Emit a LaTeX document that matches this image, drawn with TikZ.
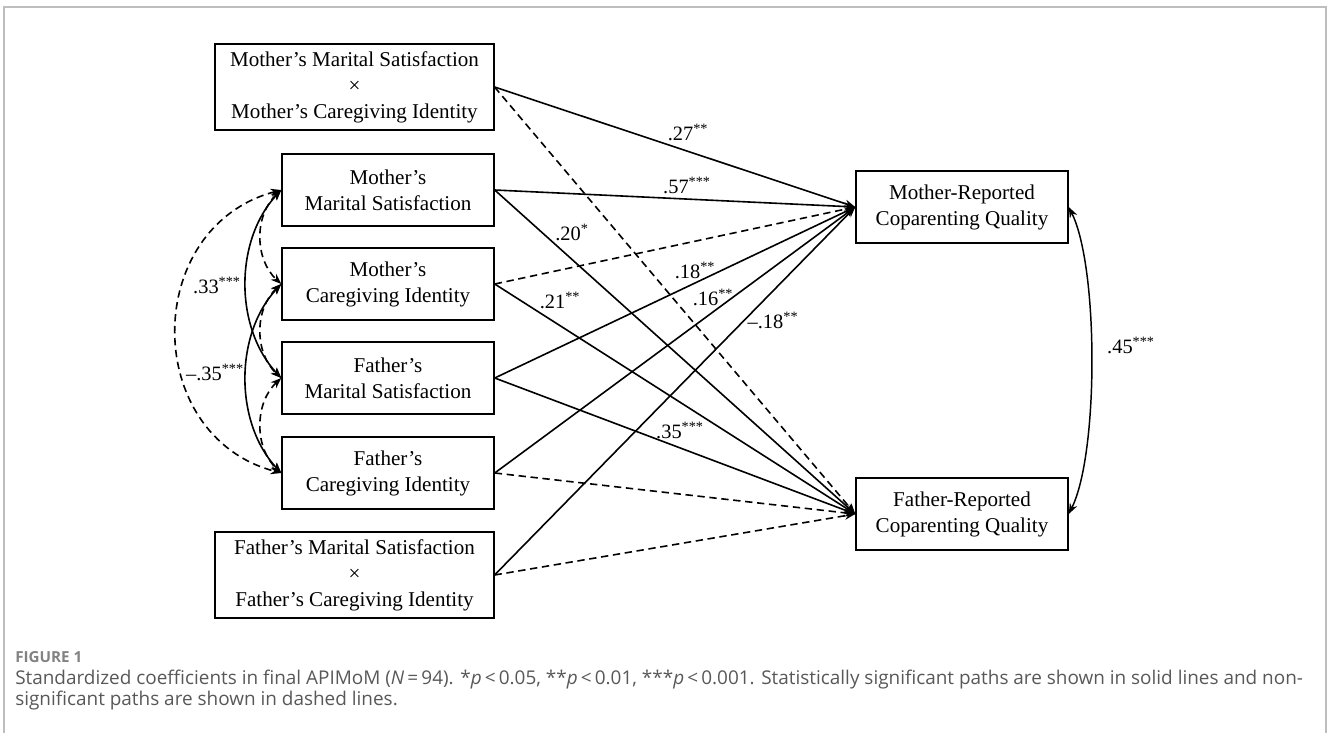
\documentclass[tikz,border=0pt]{standalone}
\usepackage{fontspec}
\setmainfont{Liberation Serif}
\newfontfamily\capfont{Open Sans}
\usetikzlibrary{arrows.meta}

\definecolor{capgray}{RGB}{88,88,88}
\definecolor{figgray}{RGB}{130,130,130}
\definecolor{framegray}{RGB}{190,190,190}

\tikzset{
  varbox/.style={draw, line width=1.1pt, minimum width=159pt, minimum height=54pt,
    align=center, inner sep=2pt, font=\fontsize{15.8}{19.5}\selectfont},
  intbox/.style={varbox, minimum width=209pt, minimum height=64.5pt},
  coef/.style={font=\fontsize{15.3}{18}\selectfont, inner sep=1pt},
  sig/.style={line width=1.2pt, ->},
  nonsig/.style={line width=1.2pt, ->, dash pattern=on 5.5pt off 3.5pt},
}

\begin{document}
\begin{tikzpicture}[x=0.75pt, y=-0.75pt, >={Stealth[length=8pt,width=6pt]}]
    \useasboundingbox (0,0) rectangle (1328,733);
    \draw[framegray, line width=1.1pt] (4,733) -- (4,7) -- (1326,7) -- (1326,733); % frame

    % predictors
    \node[intbox] (mxm) at (354.5,87) {Mother’s Marital Satisfaction\\×\\Mother’s Caregiving Identity};
    \node[varbox] (mms) at (388,190) {Mother’s\\Marital Satisfaction};
    \node[varbox] (mci) at (388,284) {Mother’s\\Caregiving Identity};
    \node[varbox] (fms) at (388,378) {Father’s\\Marital Satisfaction};
    \node[varbox] (fci) at (388,473) {Father’s\\Caregiving Identity};
    \node[intbox] (fxf) at (354.5,575) {Father’s Marital Satisfaction\\×\\Father’s Caregiving Identity};

    % outcomes
    \node[varbox] (mrcq) at (962,207) {Mother-Reported\\Coparenting Quality};
    \node[varbox] (frcq) at (962,514) {Father-Reported\\Coparenting Quality};

    % paths to mother-reported coparenting
    \draw[sig] (mxm.east) -- (mrcq.west);
    \draw[sig] (mms.east) -- (mrcq.west);
    \draw[nonsig] (mci.east) -- (mrcq.west);
    \draw[sig] (fms.east) -- (mrcq.west);
    \draw[sig] (fci.east) -- (mrcq.west);
    \draw[sig] (fxf.east) -- (mrcq.west);

    % paths to father-reported coparenting
    \draw[nonsig] (mxm.east) -- (frcq.west);
    \draw[sig] (mms.east) -- (frcq.west);
    \draw[sig] (mci.east) -- (frcq.west);
    \draw[sig] (fms.east) -- (frcq.west);
    \draw[nonsig] (fci.east) -- (frcq.west);
    \draw[nonsig] (fxf.east) -- (frcq.west);

    % covariances
    \draw[nonsig, <->] (mms.west) .. controls +(-140,37) and +(-140,-37) .. (fci.west);
    \draw[sig, <->] (mms.west) .. controls +(-47,50) and +(-47,-50) .. (fms.west);
    \draw[sig, <->] (mci.west) .. controls +(-47,50) and +(-47,-50) .. (fci.west);
    \draw[nonsig, <->] (mms.west) .. controls +(-27,25) and +(-27,-25) .. (mci.west);
    \draw[nonsig, <->] (mci.west) .. controls +(-27,25) and +(-27,-25) .. (fms.west);
    \draw[nonsig, <->] (fms.west) .. controls +(-27,25) and +(-27,-25) .. (fci.west);
    \draw[line width=1.1pt, <->] (mrcq.east) .. controls +(30,60) and +(30,-60) .. (frcq.east);

    % coefficients
    \node[coef] (l27) at (688,132) {.27\textsuperscript{**}};
    \node[coef] (l57) at (687,185) {.57\textsuperscript{***}};
    \node[coef] (l20) at (572,232) {.20\textsuperscript{*}};
    \node[coef] (l18) at (695,270) {.18\textsuperscript{**}};
    \node[coef] (l21) at (560,300) {.21\textsuperscript{**}};
    \node[coef] (l16) at (713,297) {.16\textsuperscript{**}};
    \node[coef] (lm18) at (773,320) {–.18\textsuperscript{**}};
    \node[coef] (l35) at (680,430) {.35\textsuperscript{***}};
    \node[coef] (l45) at (1131,345) {.45\textsuperscript{***}};
    \node[coef] (l33) at (217,285) {.33\textsuperscript{***}};
    \node[coef] (lm35) at (215,372) {–.35\textsuperscript{***}};

    % caption
    \node[anchor=west, inner sep=0pt, text=figgray, font=\capfont\bfseries\fontsize{11.4}{13}\selectfont] (fig) at (15,657) {FIGURE 1};
    \node[anchor=north west, inner sep=0pt, align=left, text=capgray, font=\capfont\fontsize{14.2}{15.75}\selectfont] (cap) at (15,670)
      {Standardized coefficients in final APIMoM (\textit{N}\,=\,94). *\textit{p}\,<\,0.05, **\textit{p}\,<\,0.01, ***\textit{p}\,<\,0.001. Statistically significant paths are shown in solid lines and non-\\significant paths are shown in dashed lines.};
\end{tikzpicture}
\end{document}
